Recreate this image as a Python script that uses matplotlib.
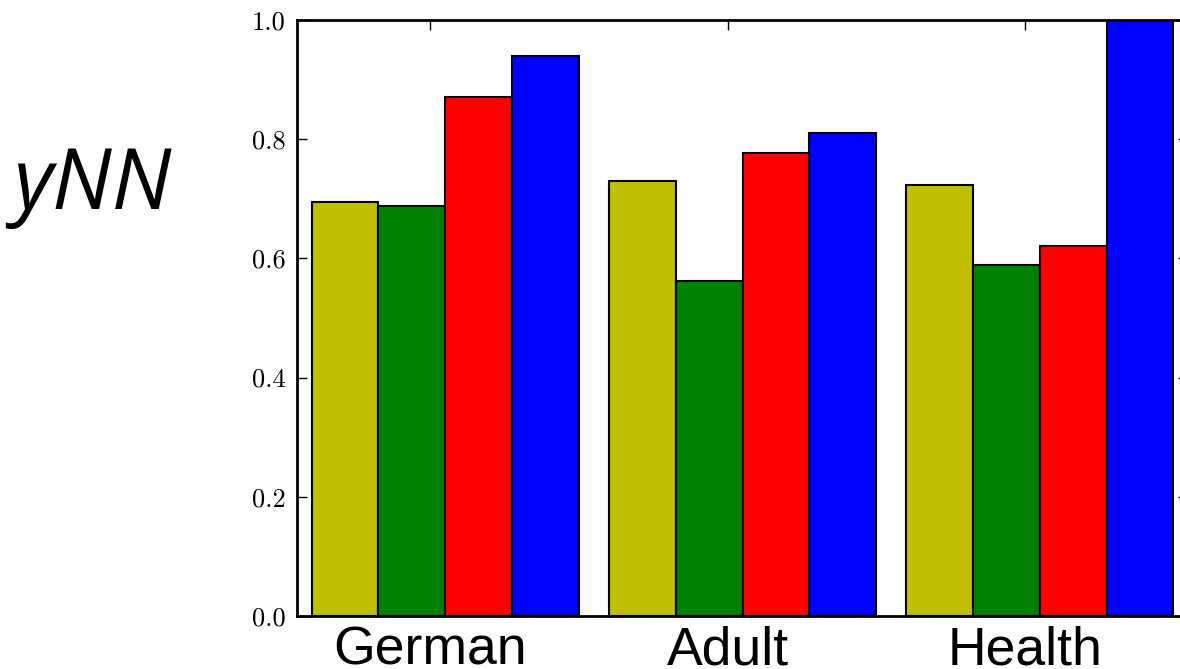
import matplotlib
matplotlib.use("Agg")
import matplotlib.pyplot as plt
import numpy as np

categories = ["German", "Adult", "Health"]
series_names = ["s1", "s2", "s3", "s4"]
series_colors = ["#bfbf00", "#008000", "#ff0000", "#0000ff"]
values = {
    "s1": [0.694, 0.729, 0.723],
    "s2": [0.687, 0.562, 0.588],
    "s3": [0.870, 0.776, 0.621],
    "s4": [0.940, 0.810, 1.000],
}
yticks = [0.0, 0.2, 0.4, 0.6, 0.8, 1.0]
ylabel_text = "yNN"

W, H = 1180, 669
fig = plt.figure(figsize=(W / 100, H / 100), dpi=100)
left = 296.7 / W
bottom = (H - 615.9) / H
top = (H - 19.9) / H
width = 891.6 / W
ax = fig.add_axes([left, bottom, width, top - bottom])

ind = np.arange(len(categories))
bw = 0.225
for k, name in enumerate(series_names):
    ax.bar(ind + k * bw, values[name], bw, align="edge", color=series_colors[k],
           edgecolor="black", linewidth=1.5, zorder=2)

ax.set_xlim(-0.05, 2.95)
ax.set_ylim(0, 1.0)
ax.set_xticks(ind + 0.4)
ax.set_xticklabels(categories, family="Liberation Sans", fontsize=38.5)
ax.set_yticks(yticks)
ax.set_yticklabels([f"{v:.1f}" for v in yticks], family="cmr10", fontsize=19)
ax.tick_params(direction="in", length=7, width=1, top=True, right=True)
ax.tick_params(axis="x", pad=7)
ax.tick_params(axis="y", pad=8)
for s in ax.spines.values():
    s.set_linewidth(2.0)
    s.set_zorder(3)

fig.text(13 / W, 1 - 209 / H, ylabel_text, family="Open Sans", style="italic",
         fontsize=61, ha="left", va="baseline")

fig.savefig("out.png", dpi=100)
